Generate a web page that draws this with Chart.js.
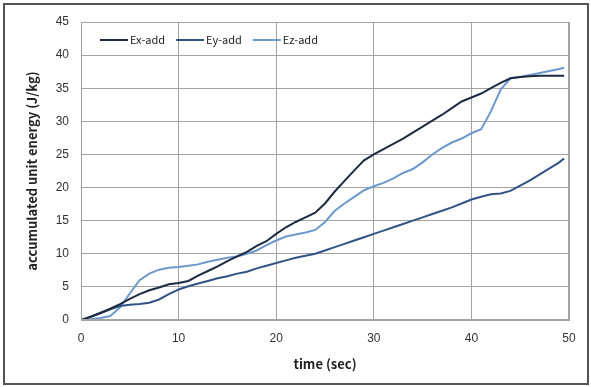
<!DOCTYPE html>
<html>
<head>
<meta charset="utf-8">
<script src="https://cdn.jsdelivr.net/npm/chart.js@4/dist/chart.umd.min.js"></script>
<style>
  html, body { margin: 0; padding: 0; background: #fff; }
  #wrap { position: relative; width: 591px; height: 387px; }
  #frame { position: absolute; left: 3px; top: 3px; width: 582px; height: 378px;
           border: 2px solid #555; pointer-events: none; }
  canvas { position: absolute; left: 0; top: 0; }
</style>
</head>
<body>
<div id="wrap">
  <canvas id="c" width="591" height="387"></canvas>
  <div id="frame"></div>
</div>
<script>
// time samples (sec)
const timeSec = [0,1,2,3,4,5,6,7,8,9,10,11,12,13,14,15,16,17,18,19,20,21,22,23,24,25,26,27,28,29,30,31,32,33,34,35,36,37,38,39,40,41,42,43,44,45,46,47,48,49,49.5];

// accumulated unit energy (J/kg) per component
const exAdd = [0,0.5,1.1,1.7,2.4,3.2,3.9,4.5,4.9,5.4,5.6,5.9,6.7,7.4,8.1,8.9,9.6,10.3,11.2,11.9,13.0,14.0,14.8,15.5,16.2,17.6,19.4,21.0,22.6,24.1,25.0,25.8,26.6,27.4,28.3,29.2,30.1,31.0,32.0,33.0,33.6,34.2,35.0,35.8,36.5,36.7,36.8,36.9,36.9,36.9,36.9];
const eyAdd = [0,0.5,1.0,1.6,2.1,2.3,2.4,2.6,3.1,3.9,4.6,5.1,5.5,5.9,6.3,6.6,7.0,7.3,7.8,8.2,8.6,9.0,9.4,9.7,10.0,10.5,11.0,11.5,12.0,12.5,13.0,13.5,14.0,14.5,15.0,15.5,16.0,16.5,17.0,17.6,18.2,18.6,19.0,19.1,19.5,20.3,21.1,22.0,22.9,23.8,24.4];
const ezAdd = [0,0.1,0.3,0.6,1.9,4.0,6.0,7.0,7.6,7.9,8.0,8.2,8.4,8.8,9.1,9.4,9.6,10.0,10.5,11.3,12.0,12.6,12.9,13.2,13.6,14.8,16.5,17.6,18.6,19.6,20.2,20.7,21.4,22.2,22.8,23.8,25.0,26.0,26.8,27.4,28.2,28.8,31.5,34.8,36.5,36.7,37.0,37.3,37.6,37.9,38.1];

const seriesNames = ['Ex-add', 'Ey-add', 'Ez-add'];
const seriesColors = ['#1d2b42', '#325385', '#6d98cc'];
const xTicks = [0, 10, 20, 30, 40, 50];
const yMax = 45;

const toPoints = vals => timeSec.map((t, i) => ({ x: t, y: vals[i] }));

// in-plot legend: short line sample followed by the series name
const insideLegend = {
  id: 'insideLegend',
  afterDatasetsDraw(chart) {
    const { ctx, chartArea } = chart;
    ctx.save();
    ctx.font = '11px "Noto Sans CJK JP", "DejaVu Sans", sans-serif';
    ctx.textBaseline = 'middle';
    const y = chartArea.top + 18;
    let x = chartArea.left + 19;
    chart.data.datasets.forEach(ds => {
      ctx.strokeStyle = ds.borderColor;
      ctx.lineWidth = 2;
      ctx.beginPath();
      ctx.moveTo(x, y);
      ctx.lineTo(x + 28, y);
      ctx.stroke();
      ctx.fillStyle = '#222';
      ctx.fillText(ds.label, x + 30, y);
      x += 30 + ctx.measureText(ds.label).width + 11;
    });
    ctx.restore();
  }
};

new Chart(document.getElementById('c'), {
  type: 'line',
  data: {
    datasets: [exAdd, eyAdd, ezAdd].map((vals, i) => ({
      label: seriesNames[i],
      data: toPoints(vals),
      borderColor: seriesColors[i],
      backgroundColor: seriesColors[i],
      borderWidth: 2,
      pointRadius: 0,
      tension: 0,
      fill: false
    }))
  },
  options: {
    responsive: false,
    animation: false,
    layout: { padding: { left: 0, top: 22, right: 22, bottom: 0 } },
    plugins: { legend: { display: false }, tooltip: { enabled: false } },
    scales: {
      x: {
        type: 'linear',
        min: 0, max: 50,
        afterFit: s => { s.height = 67; },
        afterBuildTicks: s => { s.ticks = xTicks.map(v => ({ value: v })); },
        grid: { color: '#a3a3a3', lineWidth: 1, drawTicks: false },
        border: { color: '#a3a3a3', width: 1 },
        ticks: { padding: 11, color: '#333', font: { family: '"Liberation Sans", Arial, sans-serif', size: 12 } },
        title: { display: true, text: 'time (sec)', color: '#222',
                 padding: { top: 0, bottom: 15 },
                 font: { family: '"Noto Sans CJK JP", "DejaVu Sans", sans-serif', size: 13, weight: 'bold' } }
      },
      y: {
        min: 0, max: yMax,
        afterFit: s => { s.width = 81; },
        grid: { color: '#a3a3a3', lineWidth: 1, drawTicks: false },
        border: { color: '#a3a3a3', width: 1 },
        ticks: { stepSize: 5, padding: 12, color: '#333', font: { family: '"Liberation Sans", Arial, sans-serif', size: 12 } },
        title: { display: true, text: 'accumulated unit energy (J/kg)', color: '#222',
                 padding: { top: 24, bottom: 0 },
                 font: { family: '"Noto Sans CJK JP", "DejaVu Sans", sans-serif', size: 13, weight: 'bold' } }
      }
    }
  },
  plugins: [insideLegend, {
    id: 'plotFrame',
    afterDraw(chart) {
      const { ctx, chartArea: a } = chart;
      ctx.save();
      ctx.strokeStyle = '#a3a3a3';
      ctx.lineWidth = 1;
      ctx.strokeRect(Math.round(a.left) + 0.5, Math.round(a.top) + 0.5, Math.round(a.width) - 1, Math.round(a.height) - 1);
      ctx.restore();
    }
  }]
});
</script>
</body>
</html>
